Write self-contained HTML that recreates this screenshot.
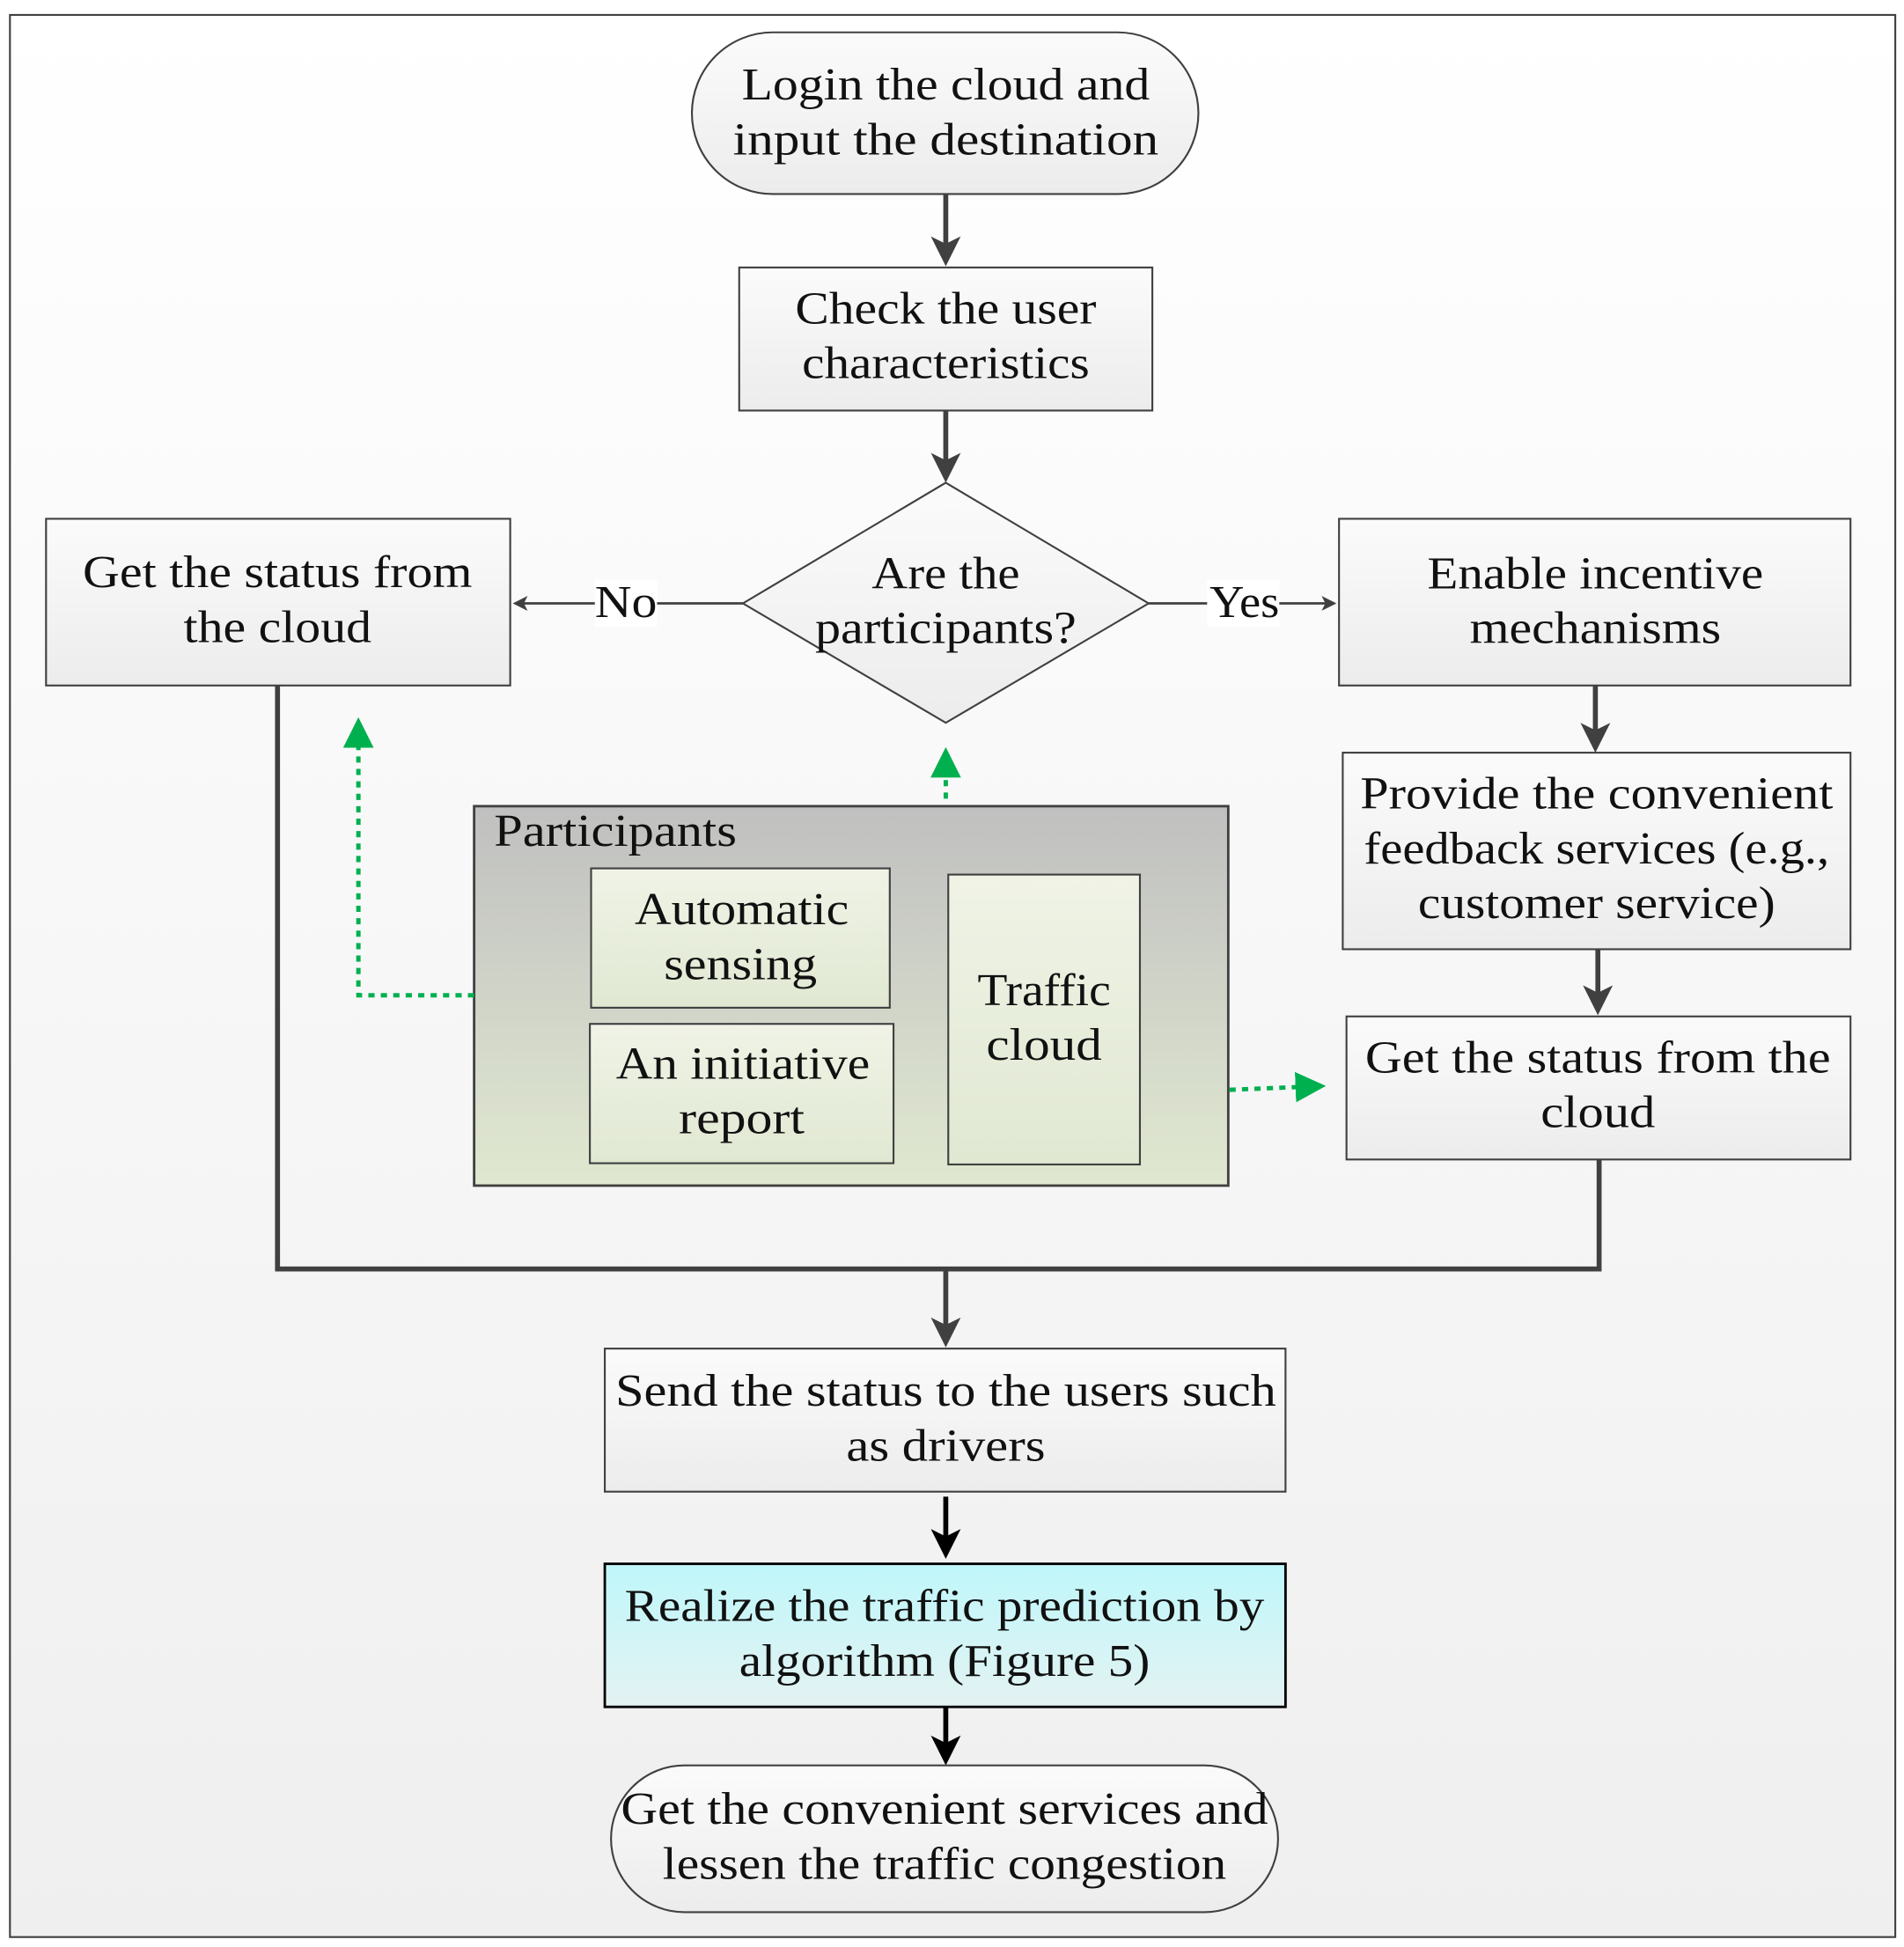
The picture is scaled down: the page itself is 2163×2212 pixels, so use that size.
<!DOCTYPE html>
<html><head><meta charset="utf-8"><style>
html,body{margin:0;padding:0;background:#fff}
svg{display:block}
text{font-family:"Liberation Serif",serif;font-size:37px;fill:#111;text-anchor:middle}
</style></head><body>
<svg width="2163" height="2212" viewBox="0 0 1530 1565" preserveAspectRatio="none" xmlns="http://www.w3.org/2000/svg">
<defs>
<linearGradient id="bg" x1="0" y1="0" x2="0" y2="1"><stop offset="0" stop-color="#ffffff"/><stop offset="1" stop-color="#efefef"/></linearGradient>
<linearGradient id="bx" x1="0" y1="0" x2="0" y2="1"><stop offset="0" stop-color="#fbfbfb"/><stop offset="1" stop-color="#ececec"/></linearGradient>
<linearGradient id="pg" x1="0" y1="0" x2="0" y2="1"><stop offset="0" stop-color="#c0c0c0"/><stop offset="1" stop-color="#e0e8d0"/></linearGradient>
<linearGradient id="gg" x1="0" y1="0" x2="0" y2="1"><stop offset="0" stop-color="#f0f3e6"/><stop offset="1" stop-color="#e0e8d2"/></linearGradient>
<linearGradient id="cy" x1="0" y1="0" x2="0" y2="1"><stop offset="0" stop-color="#bff7fa"/><stop offset="1" stop-color="#e4f2f2"/></linearGradient>
<marker id="a" markerWidth="6" markerHeight="6" refX="5" refY="3" orient="auto" markerUnits="strokeWidth"><path d="M0,0 L6,3 L0,6 L1.5,3 z" fill="#404040"/></marker>
<marker id="ab" markerWidth="6" markerHeight="6" refX="5" refY="3" orient="auto" markerUnits="strokeWidth"><path d="M0,0 L6,3 L0,6 L1.5,3 z" fill="#000"/></marker>
<marker id="ag" markerWidth="7" markerHeight="7" refX="6" refY="3.5" orient="auto" markerUnits="strokeWidth"><path d="M0,0 L7,3.5 L0,7 z" fill="#00b04f"/></marker>
</defs>
<rect x="0" y="0" width="1530" height="1565" fill="#fff"/>
<rect x="8" y="12" width="1515" height="1545" fill="url(#bg)" stroke="#404040" stroke-width="1.5"/>

<g stroke="#404040" stroke-width="4" fill="none">
<line x1="760" y1="156" x2="760" y2="210" marker-end="url(#a)"/>
<line x1="760" y1="330" x2="760" y2="384" marker-end="url(#a)"/>
<line x1="1282" y1="551" x2="1282" y2="601" marker-end="url(#a)"/>
<line x1="1284" y1="763" x2="1284" y2="812" marker-end="url(#a)"/>
<polyline points="223,551 223,1020 1285,1020 1285,932"/>
<line x1="760" y1="1020" x2="760" y2="1079" marker-end="url(#a)"/>
<line x1="716" y1="748" x2="757" y2="748" marker-end="url(#a)"/>
<line x1="718" y1="879" x2="757" y2="879" marker-end="url(#a)"/>
</g>
<g stroke="#000" stroke-width="4">
<line x1="760" y1="1203" x2="760" y2="1249" marker-end="url(#ab)"/>
<line x1="760" y1="1372" x2="760" y2="1415" marker-end="url(#ab)"/>
</g>
<g stroke="#404040" stroke-width="2" fill="none">
<line x1="597" y1="485" x2="414" y2="485" marker-end="url(#a)"/>
<line x1="923" y1="485" x2="1072" y2="485" marker-end="url(#a)"/>
</g>

<rect x="556" y="26" width="407" height="130" rx="65" fill="url(#bx)" stroke="#404040" stroke-width="1.5"/>
<text x="760" y="80" textLength="328" lengthAdjust="spacingAndGlyphs">Login the cloud and</text><text x="760" y="124" textLength="342" lengthAdjust="spacingAndGlyphs">input the destination</text>

<rect x="594" y="215" width="332" height="115" fill="url(#bx)" stroke="#404040" stroke-width="1.5"/>
<text x="760" y="260" textLength="242" lengthAdjust="spacingAndGlyphs">Check the user</text><text x="760" y="304" textLength="231" lengthAdjust="spacingAndGlyphs">characteristics</text>

<polygon points="760,388 923,485 760,581 597,485" fill="url(#bx)" stroke="#404040" stroke-width="1.5"/>
<text x="760" y="473" textLength="119" lengthAdjust="spacingAndGlyphs">Are the</text><text x="760" y="517" textLength="210" lengthAdjust="spacingAndGlyphs">participants?</text>

<rect x="478" y="466" width="50" height="38" fill="#fff"/><text x="503" y="496" textLength="50" lengthAdjust="spacingAndGlyphs">No</text>
<rect x="970" y="466" width="58" height="38" fill="#fff"/><text x="1000" y="496" textLength="56" lengthAdjust="spacingAndGlyphs">Yes</text>

<rect x="37" y="417" width="373" height="134" fill="url(#bx)" stroke="#404040" stroke-width="1.5"/>
<text x="223" y="472" textLength="313" lengthAdjust="spacingAndGlyphs">Get the status from</text><text x="223" y="516" textLength="151" lengthAdjust="spacingAndGlyphs">the cloud</text>

<rect x="1076" y="417" width="411" height="134" fill="url(#bx)" stroke="#404040" stroke-width="1.5"/>
<text x="1282" y="473" textLength="270" lengthAdjust="spacingAndGlyphs">Enable incentive</text><text x="1282" y="517" textLength="202" lengthAdjust="spacingAndGlyphs">mechanisms</text>

<rect x="1079" y="605" width="408" height="158" fill="url(#bx)" stroke="#404040" stroke-width="1.5"/>
<text x="1283" y="650" textLength="380" lengthAdjust="spacingAndGlyphs">Provide the convenient</text><text x="1283" y="694" textLength="374" lengthAdjust="spacingAndGlyphs">feedback services (e.g.,</text><text x="1283" y="738" textLength="287" lengthAdjust="spacingAndGlyphs">customer service)</text>

<rect x="1082" y="817" width="405" height="115" fill="url(#bx)" stroke="#404040" stroke-width="1.5"/>
<text x="1284" y="862" textLength="374" lengthAdjust="spacingAndGlyphs">Get the status from the</text><text x="1284" y="906" textLength="92" lengthAdjust="spacingAndGlyphs">cloud</text>

<rect x="381" y="648" width="606" height="305" fill="url(#pg)" stroke="#404040" stroke-width="2"/>
<text x="397" y="680" style="text-anchor:start" textLength="195" lengthAdjust="spacingAndGlyphs">Participants</text>
<rect x="475" y="698" width="240" height="112" fill="url(#gg)" stroke="#404040" stroke-width="1.5"/>
<text x="596" y="743" textLength="172" lengthAdjust="spacingAndGlyphs">Automatic</text><text x="595" y="787" textLength="123" lengthAdjust="spacingAndGlyphs">sensing</text>
<rect x="474" y="823" width="244" height="112" fill="url(#gg)" stroke="#404040" stroke-width="1.5"/>
<text x="597" y="867" textLength="204" lengthAdjust="spacingAndGlyphs">An initiative</text><text x="596" y="911" textLength="101" lengthAdjust="spacingAndGlyphs">report</text>
<rect x="762" y="703" width="154" height="233" fill="url(#gg)" stroke="#404040" stroke-width="1.5"/>
<text x="839" y="808" textLength="107" lengthAdjust="spacingAndGlyphs">Traffic</text><text x="839" y="852" textLength="93" lengthAdjust="spacingAndGlyphs">cloud</text>

<g stroke="#00b04f" stroke-width="3.5" stroke-dasharray="5,5" fill="none">
<polyline points="381,800 288,800 288,580" marker-end="url(#ag)"/>
<line x1="760" y1="642" x2="760" y2="604" marker-end="url(#ag)"/>
<line x1="988" y1="876" x2="1062" y2="873" marker-end="url(#ag)"/>
</g>

<rect x="486" y="1084" width="547" height="115" fill="url(#bx)" stroke="#404040" stroke-width="1.5"/>
<text x="760" y="1130" textLength="531" lengthAdjust="spacingAndGlyphs">Send the status to the users such</text><text x="760" y="1174" textLength="160" lengthAdjust="spacingAndGlyphs">as drivers</text>

<rect x="486" y="1257" width="547" height="115" fill="url(#cy)" stroke="#000" stroke-width="2"/>
<text x="759" y="1303" textLength="514" lengthAdjust="spacingAndGlyphs">Realize the traffic prediction by</text><text x="759" y="1347" textLength="330" lengthAdjust="spacingAndGlyphs">algorithm (Figure 5)</text>

<rect x="491" y="1419" width="536" height="118" rx="59" fill="url(#bx)" stroke="#404040" stroke-width="1.5"/>
<text x="759" y="1466" textLength="520" lengthAdjust="spacingAndGlyphs">Get the convenient services and</text><text x="759" y="1510" textLength="453" lengthAdjust="spacingAndGlyphs">lessen the traffic congestion</text>
</svg>
</body></html>
